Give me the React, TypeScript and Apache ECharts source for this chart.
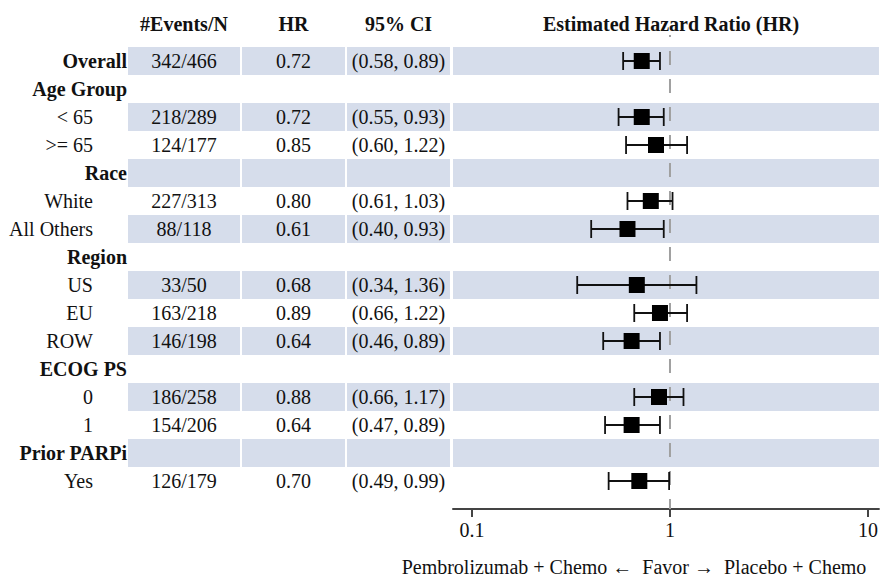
import React, { useEffect, useRef } from "react";
import * as echarts from "echarts";

// ---------- data ----------
const rowLabels = [
  "Overall", "Age Group", "< 65", ">= 65", "Race", "White", "All Others",
  "Region", "US", "EU", "ROW", "ECOG PS", "0", "1", "Prior PARPi", "Yes",
];
const groupRows = [
  true, true, false, false, true, false, false,
  true, false, false, false, true, false, false, true, false,
];
const eventsN = [
  "342/466", "", "218/289", "124/177", "", "227/313", "88/118",
  "", "33/50", "163/218", "146/198", "", "186/258", "154/206", "", "126/179",
];
const hrValues = [
  0.72, null, 0.72, 0.85, null, 0.8, 0.61,
  null, 0.68, 0.89, 0.64, null, 0.88, 0.64, null, 0.7,
];
const ciLower = [
  0.58, null, 0.55, 0.6, null, 0.61, 0.4,
  null, 0.34, 0.66, 0.46, null, 0.66, 0.47, null, 0.49,
];
const ciUpper = [
  0.89, null, 0.93, 1.22, null, 1.03, 0.93,
  null, 1.36, 1.22, 0.89, null, 1.17, 0.89, null, 0.99,
];
const shadedRows = [
  true, false, true, false, true, false, true,
  false, true, false, true, false, true, false, true, false,
];
const headers = ["#Events/N", "HR", "95% CI", "Estimated Hazard Ratio (HR)"];
const xTicks = [0.1, 1, 10];
const referenceHR = 1;
const favorLabel = "Pembrolizumab + Chemo \u2190  Favor \u2192  Placebo + Chemo";

// ---------- layout / style ----------
const W = 881;
const H = 581;
const FONT = "'Liberation Serif', 'Times New Roman', serif";
const FS = 20;
const TEXT = "#111111";
const BAND = "#D6DDEB";
const GRID = { left: 453, top: 47, width: 428, height: 448 };
const COLS: [number, number][] = [
  [128, 240],
  [242, 345],
  [347, 450],
];
const LABEL_RIGHT_GROUP = 127;
const LABEL_RIGHT_SUB = 93;
const HEADER_Y = 24;

const fmt = (v: number) => v.toFixed(2);

export default function App() {
  const ref = useRef<HTMLDivElement | null>(null);

  useEffect(() => {
    if (!ref.current) return;
    const chart = echarts.init(ref.current, undefined, { renderer: "svg" });

    const tableData = rowLabels.map((_, i) => [referenceHR, i]);
    const errData: number[][] = [];
    const pointData: number[][] = [];
    hrValues.forEach((v, i) => {
      if (v != null && ciLower[i] != null && ciUpper[i] != null) {
        errData.push([ciLower[i] as number, ciUpper[i] as number, i]);
        pointData.push([v, i]);
      }
    });

    const textStyle = (text: string, align: string, bold: boolean) => ({
      text,
      fill: TEXT,
      fontSize: FS,
      fontFamily: FONT,
      fontWeight: bold ? "bold" : "normal",
      align,
      verticalAlign: "middle",
    });

    const headerX = [
      (COLS[0][0] + COLS[0][1]) / 2,
      (COLS[1][0] + COLS[1][1]) / 2,
      (COLS[2][0] + COLS[2][1]) / 2,
    ];

    const option: any = {
      animation: false,
      backgroundColor: "#ffffff",
      grid: { ...GRID, containLabel: false },
      xAxis: {
        type: "log",
        logBase: 10,
        min: 0.0802,
        max: 11.36,
        offset: 14,
        axisLine: { show: true, lineStyle: { color: "#444444", width: 2 } },
        axisTick: {
          show: true,
          customValues: xTicks,
          length: 8,
          lineStyle: { color: "#444444", width: 2 },
        },
        axisLabel: {
          customValues: xTicks,
          formatter: (v: number) => String(v),
          color: TEXT,
          fontSize: FS,
          fontFamily: FONT,
          margin: 11,
        },
        splitLine: { show: false },
      },
      yAxis: {
        type: "category",
        data: rowLabels,
        inverse: true,
        show: false,
      },
      graphic: [
        ...headers.slice(0, 3).map((h, i) => ({
          type: "text",
          x: headerX[i],
          y: HEADER_Y,
          style: textStyle(h, "center", true),
        })),
        {
          type: "text",
          x: 671,
          y: HEADER_Y,
          style: textStyle(headers[3], "center", true),
        },
        {
          type: "text",
          x: 634,
          y: 567,
          style: textStyle(favorLabel, "center", false),
        },
      ],
      series: [
        {
          type: "custom",
          name: "table",
          z: 1,
          clip: false,
          silent: true,
          data: tableData,
          encode: { x: 0, y: 1 },
          renderItem: (params: any, api: any) => {
            const i = api.value(1);
            const cs = params.coordSys;
            const y = api.coord([referenceHR, i])[1];
            const h = cs.height / rowLabels.length;
            const children: any[] = [];
            if (shadedRows[i]) {
              COLS.forEach(([a, b]) => {
                children.push({
                  type: "rect",
                  shape: { x: a, y: y - h / 2, width: b - a, height: h },
                  style: { fill: BAND },
                });
              });
              children.push({
                type: "rect",
                shape: { x: cs.x, y: y - h / 2, width: cs.width, height: h },
                style: { fill: BAND },
              });
            }
            const bold = groupRows[i];
            children.push({
              type: "text",
              x: bold ? LABEL_RIGHT_GROUP : LABEL_RIGHT_SUB,
              y,
              style: textStyle(rowLabels[i], "right", bold),
            });
            if (eventsN[i]) {
              children.push({
                type: "text",
                x: (COLS[0][0] + COLS[0][1]) / 2,
                y,
                style: textStyle(eventsN[i], "center", false),
              });
            }
            const hr = hrValues[i];
            if (hr != null) {
              children.push({
                type: "text",
                x: (COLS[1][0] + COLS[1][1]) / 2,
                y,
                style: textStyle(fmt(hr), "center", false),
              });
              children.push({
                type: "text",
                x: (COLS[2][0] + COLS[2][1]) / 2,
                y,
                style: textStyle(
                  `(${fmt(ciLower[i] as number)}, ${fmt(ciUpper[i] as number)})`,
                  "center",
                  false
                ),
              });
            }
            return { type: "group", children };
          },
        },
        {
          type: "custom",
          name: "reference",
          z: 2,
          clip: false,
          silent: true,
          data: [[referenceHR, 0]],
          encode: { x: 0, y: 1 },
          renderItem: (params: any, api: any) => {
            const cs = params.coordSys;
            const x = api.coord([api.value(0), 0])[0];
            return {
              type: "line",
              shape: { x1: x, y1: cs.y - 12, x2: x, y2: cs.y + cs.height + 14 },
              style: {
                stroke: "#a0a0a0",
                lineWidth: 2,
                lineDash: [14, 14],
                lineDashOffset: 12,
              },
            };
          },
        },
        {
          type: "custom",
          name: "ci",
          z: 3,
          clip: false,
          silent: true,
          data: errData,
          encode: { x: [0, 1], y: 2 },
          renderItem: (params: any, api: any) => {
            const row = api.value(2);
            const p1 = api.coord([api.value(0), row]);
            const p2 = api.coord([api.value(1), row]);
            const cap = 9;
            const st = { stroke: "#111111", lineWidth: 1.8 };
            return {
              type: "group",
              children: [
                { type: "line", shape: { x1: p1[0], y1: p1[1], x2: p2[0], y2: p2[1] }, style: st },
                { type: "line", shape: { x1: p1[0], y1: p1[1] - cap, x2: p1[0], y2: p1[1] + cap }, style: st },
                { type: "line", shape: { x1: p2[0], y1: p2[1] - cap, x2: p2[0], y2: p2[1] + cap }, style: st },
              ],
            };
          },
        },
        {
          type: "scatter",
          name: "HR",
          z: 4,
          silent: true,
          symbol: "rect",
          symbolSize: 16,
          itemStyle: { color: "#000000", opacity: 1 },
          data: pointData,
        },
      ],
    };

    chart.setOption(option);
    return () => {
      chart.dispose();
    };
  }, []);

  return (
    <div
      ref={ref}
      style={{ position: "fixed", left: 0, top: 0, width: W, height: H, background: "#fff" }}
    />
  );
}
